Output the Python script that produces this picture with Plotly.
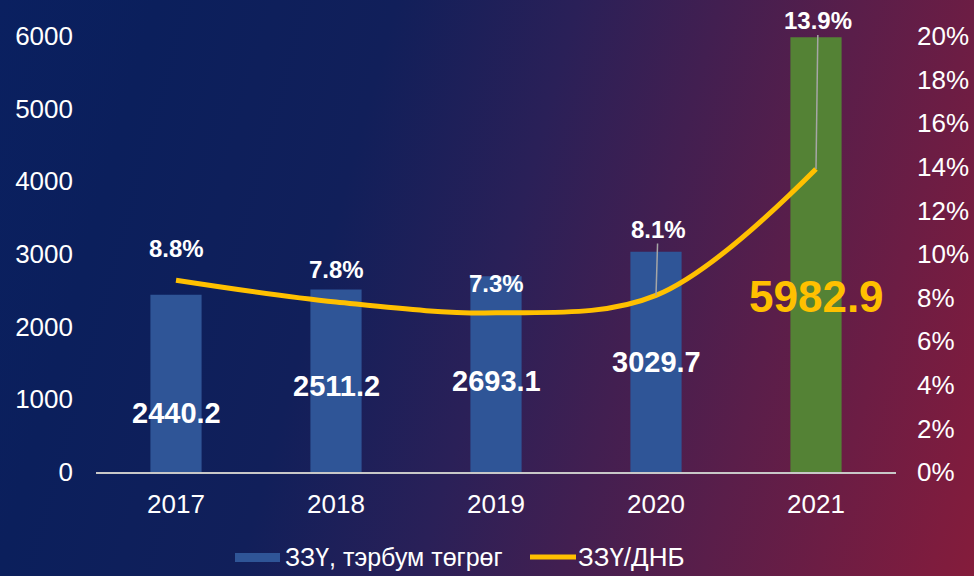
import base64
import plotly.graph_objects as go

# ---- data ----
years = [2017, 2018, 2019, 2020, 2021]
gdp_values = [2440.2, 2511.2, 2693.1, 3029.7, 5982.9]          # ЗЗҮ, тэрбум төгрөг
ratio_pct = [8.8, 7.8, 7.3, 8.1, 13.9]                          # ЗЗҮ/ДНБ, %
value_labels = ["2440.2", "2511.2", "2693.1", "3029.7", "5982.9"]
pct_labels = ["8.8%", "7.8%", "7.3%", "8.1%", "13.9%"]
left_ticks = [0, 1000, 2000, 3000, 4000, 5000, 6000]
right_ticks = list(range(0, 22, 2))

# ---- styling / label placement (not data) ----
bar_colors = ["#2F5597", "#2F5597", "#2F5597", "#2F5597", "#548235"]
value_label_y = [810, 1180, 1250, 1510, 2410]
value_label_color = ["white", "white", "white", "white", "#FFC000"]
value_label_size = [29, 29, 29, 29, 44]
pct_offsets = [(0, -32), (0, -32), (0, -29), (2, -66), (2, -148)]
pct_arrow = [False, False, False, True, True]

W, H = 974, 576
ML, MR, MT, MB = 96, 78, 36, 104
PW, PH = W - ML - MR, H - MT - MB

svg = f"""<svg xmlns='http://www.w3.org/2000/svg' width='{W}' height='{H}' viewBox='0 0 {W} {H}' preserveAspectRatio='none'>
<defs><linearGradient id='g' gradientUnits='userSpaceOnUse' x1='0' y1='0' x2='1053' y2='292'>
<stop offset='0' stop-color='#0A2060'/>
<stop offset='0.14' stop-color='#0B1F5C'/>
<stop offset='0.35' stop-color='#111F5A'/>
<stop offset='0.51' stop-color='#2A2058'/>
<stop offset='0.76' stop-color='#5A1E4A'/>
<stop offset='0.96' stop-color='#7E1C3E'/>
<stop offset='1' stop-color='#841C3B'/>
</linearGradient></defs>
<rect x='0' y='0' width='{W}' height='{H}' fill='url(#g)'/></svg>"""
src = "data:image/svg+xml;base64," + base64.b64encode(svg.encode()).decode()

FONT = "Arial, 'Liberation Sans', sans-serif"

fig = go.Figure()
fig.add_trace(go.Bar(
    x=years, y=gdp_values, width=0.32,
    marker=dict(color=bar_colors, line=dict(width=0)),
    name="ЗЗҮ, тэрбум төгрөг", showlegend=False, hoverinfo="skip"))
fig.add_trace(go.Scatter(
    x=years, y=ratio_pct, yaxis="y2", mode="lines",
    line=dict(color="#FFC000", width=5, shape="spline", smoothing=1.0),
    name="ЗЗҮ/ДНБ", showlegend=False, hoverinfo="skip"))

annotations = []
for x, yv, t, c, s in zip(years, value_label_y, value_labels, value_label_color, value_label_size):
    annotations.append(dict(x=x, y=yv, xref="x", yref="y", text=f"<b>{t}</b>",
                            showarrow=False, font=dict(color=c, size=s, family=FONT)))
for x, yv, t, (ox, oy), arr in zip(years, ratio_pct, pct_labels, pct_offsets, pct_arrow):
    if arr:
        annotations.append(dict(x=x, y=yv, xref="x", yref="y2", text=f"<b>{t}</b>",
                                showarrow=True, arrowhead=0, arrowwidth=1.5,
                                arrowcolor="#A6A6A6", ax=ox, ay=oy, standoff=0,
                                borderpad=0,
                                font=dict(color="white", size=24, family=FONT)))
    else:
        annotations.append(dict(x=x, y=yv, xref="x", yref="y2", text=f"<b>{t}</b>",
                                showarrow=False, yshift=-oy, xshift=ox,
                                font=dict(color="white", size=24, family=FONT)))

def px2paper(px, py):
    return (px - ML) / PW, (H - MB - py) / PH

# custom legend
lx0, ly0 = px2paper(235, 553)
lx1, ly1 = px2paper(280, 562)
tx1, ty = px2paper(283, 557)
lnx0, lny = px2paper(530, 557)
lnx1, _ = px2paper(576, 557)
shapes = [
    dict(type="rect", xref="paper", yref="paper", x0=lx0, x1=lx1, y0=ly1, y1=ly0,
         fillcolor="#2F5597", line=dict(width=0)),
    dict(type="line", xref="paper", yref="paper", x0=lnx0, x1=lnx1, y0=lny, y1=lny,
         line=dict(color="#FFC000", width=5)),
]
annotations.append(dict(x=tx1, y=ty, xref="paper", yref="paper", xanchor="left",
                        yanchor="middle", showarrow=False, text="ЗЗҮ, тэрбум төгрөг",
                        font=dict(color="white", size=25, family=FONT)))
annotations.append(dict(x=lnx1, y=ty, xref="paper", yref="paper", xanchor="left",
                        yanchor="middle", showarrow=False, text="ЗЗҮ/ДНБ",
                        font=dict(color="white", size=26, family=FONT)))

fig.update_layout(
    width=W, height=H,
    margin=dict(l=ML, r=MR, t=MT, b=MB, autoexpand=False),
    paper_bgcolor="#2A2058", plot_bgcolor="rgba(0,0,0,0)",
    font=dict(family=FONT, color="white", size=26),
    images=[dict(source=src, xref="paper", yref="paper", x=-ML / PW, y=1 + MT / PH,
                 sizex=W / PW, sizey=H / PH, xanchor="left", yanchor="top",
                 sizing="stretch", layer="below")],
    xaxis=dict(range=[2016.5, 2021.5], tickvals=years, ticktext=[str(y) for y in years],
               showgrid=False, showline=True, linecolor="#C8C8C8",
               linewidth=2, ticks="", tickfont=dict(size=26, color="white"),
               ticklabelstandoff=8, zeroline=False, automargin=False),
    yaxis=dict(range=[0, 6000], tickvals=left_ticks, showgrid=False, zeroline=False,
               ticks="", tickfont=dict(size=26, color="white"), ticklabelstandoff=22,
               automargin=False),
    yaxis2=dict(range=[0, 20], tickvals=right_ticks,
                ticktext=[f"{v}%" for v in right_ticks], overlaying="y", side="right",
                showgrid=False, zeroline=False, ticks="",
                tickfont=dict(size=26, color="white"), ticklabelstandoff=20,
                automargin=False),
    annotations=annotations, shapes=shapes,
)

fig.write_html("out.html", config={"displayModeBar": False},
               post_script="document.body.style.margin='0';")
